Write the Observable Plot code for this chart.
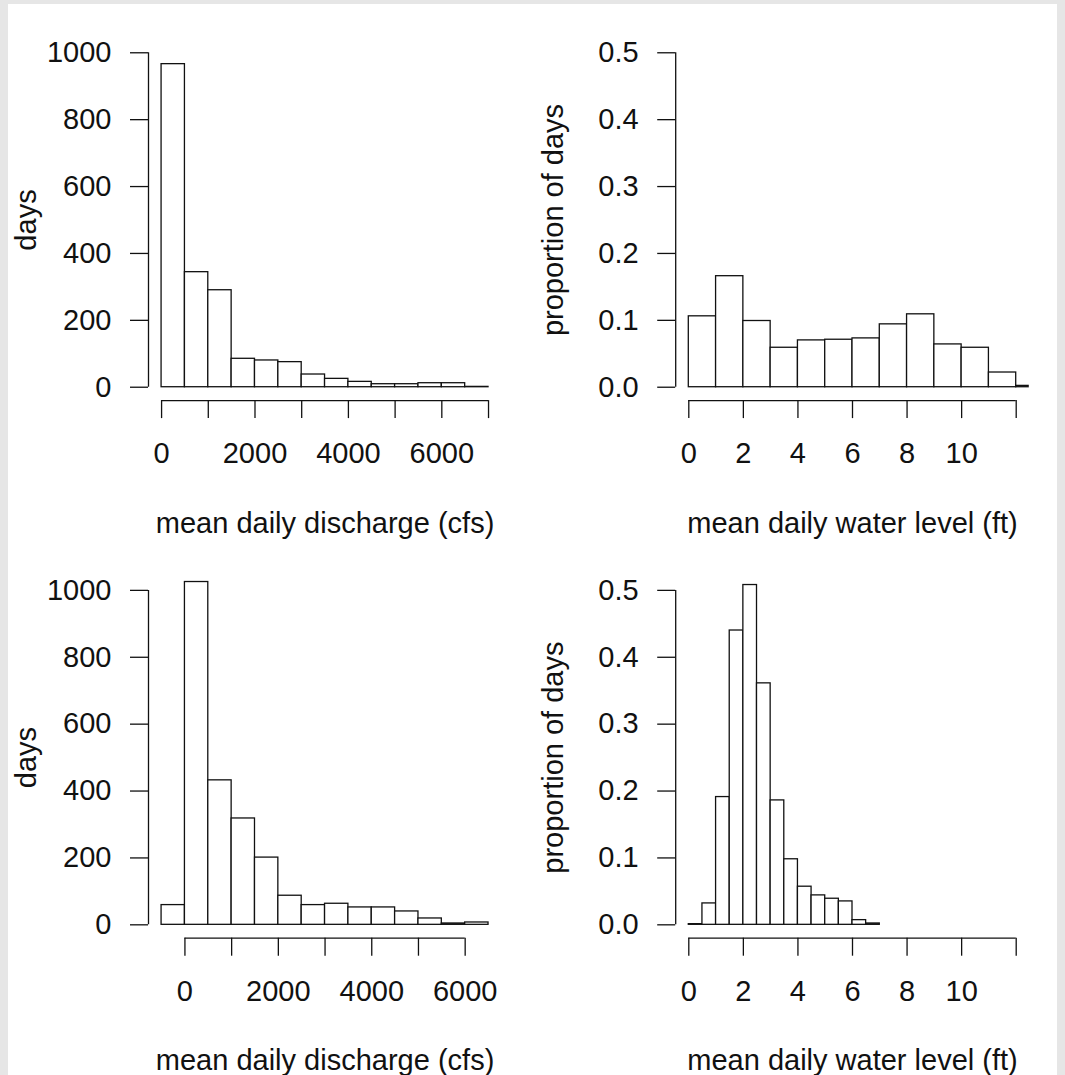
<!DOCTYPE html>
<html>
<head>
<meta charset="utf-8">
<script src="https://cdn.jsdelivr.net/npm/d3@7"></script>
<script src="https://cdn.jsdelivr.net/npm/@observablehq/plot@0.6"></script>
<style>
  html, body { margin: 0; padding: 0; background: #e6e6e6; }
  #page { position: relative; width: 1065px; height: 1075px; overflow: hidden; background: #e6e6e6; }
  #sheet { position: absolute; left: 8px; top: 4px; width: 1049px; height: 1071px; background: #ffffff; }
  #page svg { position: absolute; left: 0; top: 0; }
</style>
</head>
<body>
<div id="page"><div id="sheet"></div></div>
<script>
// ---------- data ----------
// Top-left: discharge histogram (days)
const dischargeBreaksA = [0, 500, 1000, 1500, 2000, 2500, 3000, 3500, 4000, 4500, 5000, 5500, 6000, 6500, 7000];
const dischargeDaysA   = [966, 344, 290, 85, 80, 75, 38, 25, 16, 9, 9, 12, 12, 1];

// Top-right: water level density (proportion of days)
const levelBreaksA = [0, 1, 2, 3, 4, 5, 6, 7, 8, 9, 10, 11, 12, 13];
const levelPropA   = [0.106, 0.166, 0.099, 0.059, 0.070, 0.071, 0.073, 0.094, 0.109, 0.064, 0.059, 0.022, 0.002];

// Bottom-left: discharge histogram (days)
const dischargeBreaksB = [-500, 0, 500, 1000, 1500, 2000, 2500, 3000, 3500, 4000, 4500, 5000, 5500, 6000, 6500];
const dischargeDaysB   = [59, 1025, 432, 318, 201, 87, 59, 63, 52, 52, 40, 19, 4, 7];

// Bottom-right: water level density (proportion of days)
const levelBreaksB = [0, 0.5, 1, 1.5, 2, 2.5, 3, 3.5, 4, 4.5, 5, 5.5, 6, 6.5, 7];
const levelPropB   = [0.001, 0.032, 0.191, 0.440, 0.508, 0.361, 0.186, 0.098, 0.057, 0.044, 0.039, 0.035, 0.007, 0.002];

// Tick values and labels
const dischargeTicksA   = [0, 1000, 2000, 3000, 4000, 5000, 6000, 7000];
const dischargeTicksB   = [0, 1000, 2000, 3000, 4000, 5000, 6000];
const dischargeLabeled  = [0, 2000, 4000, 6000];
const levelTicks        = [0, 2, 4, 6, 8, 10, 12];
const levelLabeled      = [0, 2, 4, 6, 8, 10];
const daysTicks         = [0, 200, 400, 600, 800, 1000];
const propTicks         = [0, 0.1, 0.2, 0.3, 0.4, 0.5];

const xTitleDischarge = "mean daily discharge (cfs)";
const xTitleLevel     = "mean daily water level (ft)";
const yTitleDays      = "days";
const yTitleProp      = "proportion of days";

// ---------- layout ----------
const W = 1065, H = 1075;
const FONT = "'Liberation Sans', Arial, Helvetica, sans-serif";
const INK = "#111";
const LW = 1.3;

function toBins(breaks, values) {
  return values.map((v, i) => ({x1: breaks[i], x2: breaks[i + 1], v}));
}

const panels = [
  {bins: toBins(dischargeBreaksA, dischargeDaysA), xDomain: [-280, 7280], yDomain: [-40, 1040],
   frame: {left: 148, right: 501.1, top: 38.9, bottom: 400.1},
   xTicks: dischargeTicksA, xLabeled: dischargeLabeled, xFmt: d3.format("d"),
   yTicks: daysTicks, yFmt: d3.format("d"), xTitle: xTitleDischarge, yTitle: yTitleDays},
  {bins: toBins(levelBreaksA, levelPropA), xDomain: [-0.48, 12.48], yDomain: [-0.02, 0.52],
   frame: {left: 675.2, right: 1028.8, top: 38.9, bottom: 400.1},
   xTicks: levelTicks, xLabeled: levelLabeled, xFmt: d3.format("d"),
   yTicks: propTicks, yFmt: d3.format(".1f"), xTitle: xTitleLevel, yTitle: yTitleProp},
  {bins: toBins(dischargeBreaksB, dischargeDaysB), xDomain: [-780, 6780], yDomain: [-40, 1040],
   frame: {left: 148, right: 501.1, top: 576.5, bottom: 937.7},
   xTicks: dischargeTicksB, xLabeled: dischargeLabeled, xFmt: d3.format("d"),
   yTicks: daysTicks, yFmt: d3.format("d"), xTitle: xTitleDischarge, yTitle: yTitleDays},
  {bins: toBins(levelBreaksB, levelPropB), xDomain: [-0.48, 12.48], yDomain: [-0.02, 0.52],
   frame: {left: 675.2, right: 1028.8, top: 576.5, bottom: 937.7},
   xTicks: levelTicks, xLabeled: levelLabeled, xFmt: d3.format("d"),
   yTicks: propTicks, yFmt: d3.format(".1f"), xTitle: xTitleLevel, yTitle: yTitleProp}
];

const page = document.getElementById("page");

for (const p of panels) {
  const f = p.frame;
  const chart = Plot.plot({
    width: W,
    height: H,
    marginLeft: f.left,
    marginRight: W - f.right,
    marginTop: f.top,
    marginBottom: H - f.bottom,
    x: {domain: p.xDomain},
    y: {domain: p.yDomain},
    style: {background: "transparent", fontFamily: FONT, fontSize: "29px", color: INK, overflow: "visible"},
    marks: [
      Plot.rect(p.bins, {x1: "x1", x2: "x2", y1: 0, y2: "v", fill: "white", stroke: INK, strokeWidth: LW, clip: true}),
      Plot.ruleX([p.xDomain[0]], {y1: p.yTicks[0], y2: p.yTicks[p.yTicks.length - 1], stroke: INK, strokeWidth: LW}),
      Plot.ruleY([p.yDomain[0]], {x1: p.xTicks[0], x2: p.xTicks[p.xTicks.length - 1], stroke: INK, strokeWidth: LW}),
      Plot.axisY({anchor: "left", ticks: p.yTicks, tickSize: 18, tickPadding: 19, tickFormat: p.yFmt,
                  label: null, stroke: INK, strokeWidth: LW, fill: INK, fontSize: 29}),
      Plot.axisX({anchor: "bottom", ticks: p.xTicks, tickSize: 18, tickPadding: 24,
                  tickFormat: d => p.xLabeled.includes(d) ? p.xFmt(d) : "",
                  label: null, stroke: INK, strokeWidth: LW, fill: INK, fontSize: 29}),
      Plot.text([p.xTitle], {frameAnchor: "bottom", dy: 123, text: d => d, lineAnchor: "middle",
                             textAnchor: "middle", fontSize: 29, fill: INK}),
      Plot.text([p.yTitle], {frameAnchor: "left", dx: -122, rotate: -90, text: d => d, lineAnchor: "middle",
                             textAnchor: "middle", fontSize: 29, fill: INK})
    ]
  });
  page.appendChild(chart);
}
</script>
</body>
</html>
